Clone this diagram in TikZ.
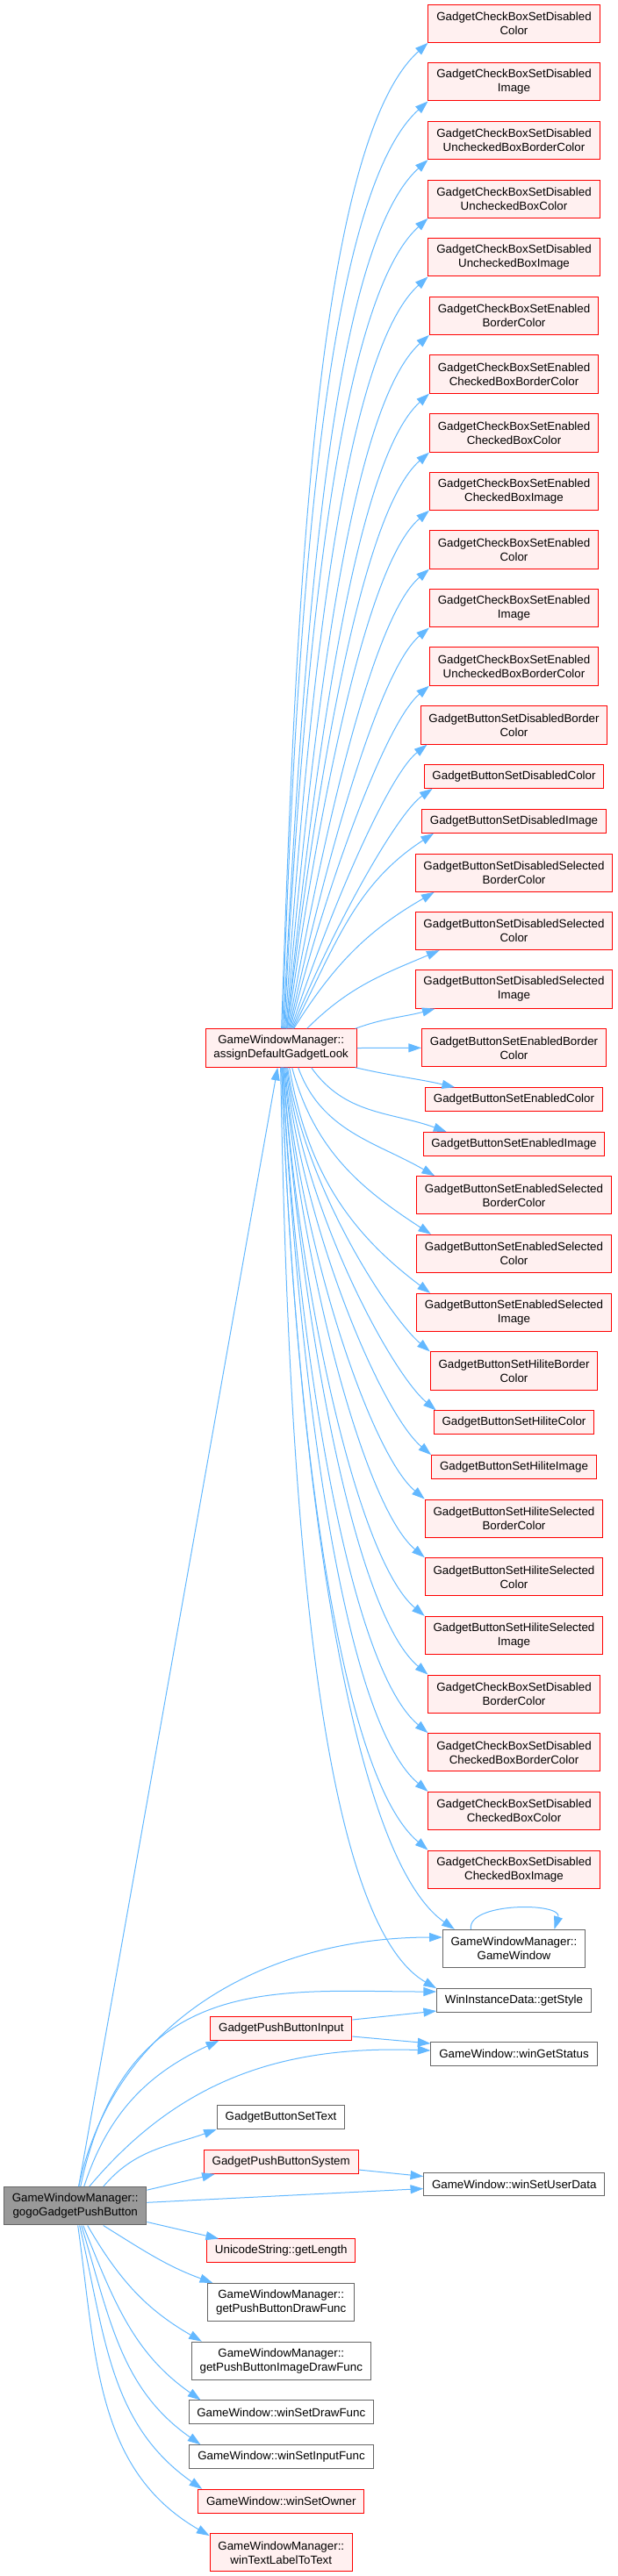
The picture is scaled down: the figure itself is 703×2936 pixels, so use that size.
\documentclass[tikz,border=0pt]{standalone}
\usepackage{fontspec}
\setmainfont{Liberation Sans}
\usetikzlibrary{arrows.meta,calc,positioning}

\definecolor{edgeblue}{HTML}{63B8FF}
\definecolor{redfill}{HTML}{FFF0F0}
\definecolor{boxgray}{HTML}{666666}
\definecolor{maingray}{HTML}{999999}

\begin{document}
\begin{tikzpicture}[x=0.75pt,y=-0.75pt,
  every node/.style={font=\fontsize{10}{12}\selectfont, align=center, inner xsep=7pt, inner ysep=1pt, line width=0.75pt},
  fnred/.style={draw=red, fill=redfill},
  fngray/.style={draw=boxgray, fill=white},
  call/.style={draw=edgeblue, line width=0.75pt, -{Triangle[length=11pt,width=7.5pt]}},
  longcall/.style={out looseness=1, in looseness=0.4}]
  \useasboundingbox (0,0) rectangle (703,2936);

  % called by assignDefaultGadgetLook
  \foreach \n/\y/\h/\t in {
    cbdColor/26.7/32.5/{GadgetCheckBoxSetDisabled\\Color},
    cbdImage/93.3/32.5/{GadgetCheckBoxSetDisabled\\Image},
    cbdUncBorder/160/32.5/{GadgetCheckBoxSetDisabled\\UncheckedBoxBorderColor},
    cbdUncColor/226.7/32.5/{GadgetCheckBoxSetDisabled\\UncheckedBoxColor},
    cbdUncImage/293.3/32.5/{GadgetCheckBoxSetDisabled\\UncheckedBoxImage},
    cbeBorder/359.7/32.5/{GadgetCheckBoxSetEnabled\\BorderColor},
    cbeChkBorder/426.5/32.5/{GadgetCheckBoxSetEnabled\\CheckedBoxBorderColor},
    cbeChkColor/493.5/32.5/{GadgetCheckBoxSetEnabled\\CheckedBoxColor},
    cbeChkImage/559.7/32.5/{GadgetCheckBoxSetEnabled\\CheckedBoxImage},
    cbeColor/626.5/32.5/{GadgetCheckBoxSetEnabled\\Color},
    cbeImage/693.3/32.5/{GadgetCheckBoxSetEnabled\\Image},
    cbeUncBorder/759.5/32.5/{GadgetCheckBoxSetEnabled\\UncheckedBoxBorderColor},
    bdBorder/826.5/32.5/{GadgetButtonSetDisabledBorder\\Color},
    bdColor/885/20/GadgetButtonSetDisabledColor,
    bdImage/936/20/GadgetButtonSetDisabledImage,
    bdSelBorder/994.7/32.5/{GadgetButtonSetDisabledSelected\\BorderColor},
    bdSelColor/1061/32.5/{GadgetButtonSetDisabledSelected\\Color},
    bdSelImage/1127.5/32.5/{GadgetButtonSetDisabledSelected\\Image},
    beBorder/1194.3/32.5/{GadgetButtonSetEnabledBorder\\Color},
    beColor/1253/20/GadgetButtonSetEnabledColor,
    beImage/1303.7/20/GadgetButtonSetEnabledImage,
    beSelBorder/1362.3/32.5/{GadgetButtonSetEnabledSelected\\BorderColor},
    beSelColor/1429/32.5/{GadgetButtonSetEnabledSelected\\Color},
    beSelImage/1496/32.5/{GadgetButtonSetEnabledSelected\\Image},
    bhBorder/1562.5/32.5/{GadgetButtonSetHiliteBorder\\Color},
    bhColor/1621.3/20/GadgetButtonSetHiliteColor,
    bhImage/1672/20/GadgetButtonSetHiliteImage,
    bhSelBorder/1730.7/32.5/{GadgetButtonSetHiliteSelected\\BorderColor},
    bhSelColor/1797.3/32.5/{GadgetButtonSetHiliteSelected\\Color},
    bhSelImage/1864/32.5/{GadgetButtonSetHiliteSelected\\Image},
    cbdBorder/1930.7/32.5/{GadgetCheckBoxSetDisabled\\BorderColor},
    cbdChkBorder/1997.3/32.5/{GadgetCheckBoxSetDisabled\\CheckedBoxBorderColor},
    cbdChkColor/2064/32.5/{GadgetCheckBoxSetDisabled\\CheckedBoxColor},
    cbdChkImage/2130.7/32.5/{GadgetCheckBoxSetDisabled\\CheckedBoxImage}}
    \node[fnred, minimum height=\h*1pt] (\n) at (585.5,\y) {\t};

  \node[fngray, minimum height=32.5pt] (gameWin) at (585.5,2221) {GameWindowManager::\\GameWindow};
  \node[fngray, minimum height=20pt] (getStyle) at (585.5,2280) {WinInstanceData::getStyle};
  \node[fngray, minimum height=20pt] (getStatus) at (585.5,2341) {GameWindow::winGetStatus};
  \node[fngray, minimum height=20pt] (setUserData) at (585.8,2489.5) {GameWindow::winSetUserData};

  \node[fnred, minimum height=32.5pt] (assign) at (320.2,1194.5) {GameWindowManager::\\assignDefaultGadgetLook};
  \node[fnred, minimum height=20pt] (pbInput) at (320.3,2312) {GadgetPushButtonInput};
  \node[fngray, minimum height=20pt] (setText) at (320,2413) {GadgetButtonSetText};
  \node[fnred, minimum height=20pt] (pbSystem) at (320.2,2464) {GadgetPushButtonSystem};
  \node[fnred, minimum height=20pt] (getLength) at (320.2,2565.3) {UnicodeString::getLength};
  \node[fngray, minimum height=32.5pt] (drawFunc) at (320.2,2624) {GameWindowManager::\\getPushButtonDrawFunc};
  \node[fngray, minimum height=32.5pt] (imgDrawFunc) at (320.3,2690.7) {GameWindowManager::\\getPushButtonImageDrawFunc};
  \node[fngray, minimum height=20pt] (setDrawFunc) at (320.3,2749.2) {GameWindow::winSetDrawFunc};
  \node[fngray, minimum height=20pt] (setInputFunc) at (320.5,2800) {GameWindow::winSetInputFunc};
  \node[fnred, minimum height=20pt] (setOwner) at (320.3,2850.7) {GameWindow::winSetOwner};
  \node[fnred, minimum height=32.5pt] (labelToText) at (320.3,2909.2) {GameWindowManager::\\winTextLabelToText};

  \node[draw=boxgray, fill=maingray, minimum height=32.5pt] (gogo) at (85.7,2514.3) {GameWindowManager::\\gogoGadgetPushButton};

  % fan out of assignDefaultGadgetLook
  \foreach \n/\sx/\o/\i/\ex in {
    cbdColor/87/88/222/0, cbdImage/88/88/222/0, cbdUncBorder/89/87/222/0,
    cbdUncColor/90/87/222/0, cbdUncImage/91/86/222/0, cbeBorder/92/85/222/0,
    cbeChkBorder/93/84/222/0, cbeChkColor/93/83/221/0, cbeChkImage/94/82/220/0,
    cbeColor/95/80/220/0, cbeImage/96/78/220/0, cbeUncBorder/97/76/220/0,
    bdBorder/98/72/218/8, bdColor/99/68/215/10}
    \draw[call,longcall] ($(assign.north west)+(\sx,0)$) to[out=\o,in=\i] ($(\n.south west)+(\ex,0)$);
  \foreach \n/\sx/\o/\i/\ex in {
    bdImage/100/63/213/14, bdSelBorder/101/58/210/22,
    bdSelColor/116/45/203/28, bdSelImage/171/20/195/23}
    \draw[call] ($(assign.north west)+(\sx,0)$) to[out=\o,in=\i] ($(\n.south west)+(\ex,0)$);
  \draw[call] (assign.east) -- (beBorder.west);
  \foreach \n/\sx/\o/\i/\ex in {
    beColor/171/-13/167/34, beImage/121/-55/160/27, beSelBorder/106/-70/150/21,
    beSelColor/99/-75/147/17, beSelImage/96/-80/143/16}
    \draw[call] ($(assign.south west)+(\sx,0)$) to[out=\o,in=\i] ($(\n.north west)+(\ex,0)$);
  \foreach \n/\sx/\o/\i/\ex in {
    bhBorder/94/-82/140/0, bhColor/93/-83/140/3, bhImage/92/-84/140/0,
    bhSelBorder/91/-85/140/0, bhSelColor/90/-85/140/0, bhSelImage/89/-86/140/0,
    cbdBorder/89/-86/140/0, cbdChkBorder/88/-87/140/0, cbdChkColor/88/-87/140/0,
    cbdChkImage/87/-88/140/0, gameWin/87/-88/145/14, getStyle/86/-89/150/0}
    \draw[call,longcall] ($(assign.south west)+(\sx,0)$) to[out=\o,in=\i] ($(\n.north west)+(\ex,0)$);

  % calls of gogoGadgetPushButton
  \draw[call] (gogo) -- (assign);
  \draw[call] ($(gogo.north)+(4,0)$) to[out=78,in=180] ($(gameWin.west)+(0,-13)$);
  \draw[call,out looseness=1.4] ($(gogo.north)+(6,0)$) to[out=78,in=180] ($(getStyle.west)+(0,-10)$);
  \draw[call] ($(gogo.north)+(10,0)$) to[out=72,in=205] ($(pbInput.south west)+(10,0)$);
  \draw[call] ($(gogo.north)+(16,0)$) to[out=50,in=178] ($(getStatus.west)+(0,-4)$);
  \draw[call] ($(gogo.north)+(32,0)$) to[out=50,in=200] (setText.south west);
  \draw[call] ($(gogo.north east)+(0,4)$) -- ($(pbSystem.south west)+(13,0)$);
  \draw[call] ($(gogo.east)+(0,-4)$) -- ($(setUserData.west)+(0,5)$);
  \draw[call] ($(gogo.south east)+(0,-4)$) -- ($(getLength.north west)+(14,0)$);
  \draw[call] ($(gogo.south)+(32,0)$) to[out=-32,in=160] ($(drawFunc.north west)+(6,0)$);
  \draw[call] ($(gogo.south)+(14,0)$) to[out=-60,in=150] ($(imgDrawFunc.north west)+(12,0)$);
  \draw[call] ($(gogo.south)+(9,0)$) to[out=-68,in=145] ($(setDrawFunc.north west)+(14,0)$);
  \draw[call] ($(gogo.south)+(7,0)$) to[out=-73,in=145] ($(setInputFunc.north west)+(13,0)$);
  \draw[call] ($(gogo.south)+(5,0)$) to[out=-77,in=145] ($(setOwner.north west)+(5,0)$);
  \draw[call] ($(gogo.south)+(3,0)$) to[out=-82,in=150] ($(labelToText.north west)+(0,3)$);

  \draw[call] ($(pbInput.east)+(0,-10)$) -- ($(getStyle.west)+(0,12)$);
  \draw[call] ($(pbInput.east)+(0,9)$) -- ($(getStatus.west)+(0,-12)$);
  \draw[call] ($(pbSystem.east)+(0,9)$) -- ($(setUserData.west)+(0,-9)$);
  \draw[call] ($(gameWin.north)+(-49,0)$) .. controls +(-5,-31) and +(10,-31) .. ($(gameWin.north)+(46,0)$);
\end{tikzpicture}
\end{document}
